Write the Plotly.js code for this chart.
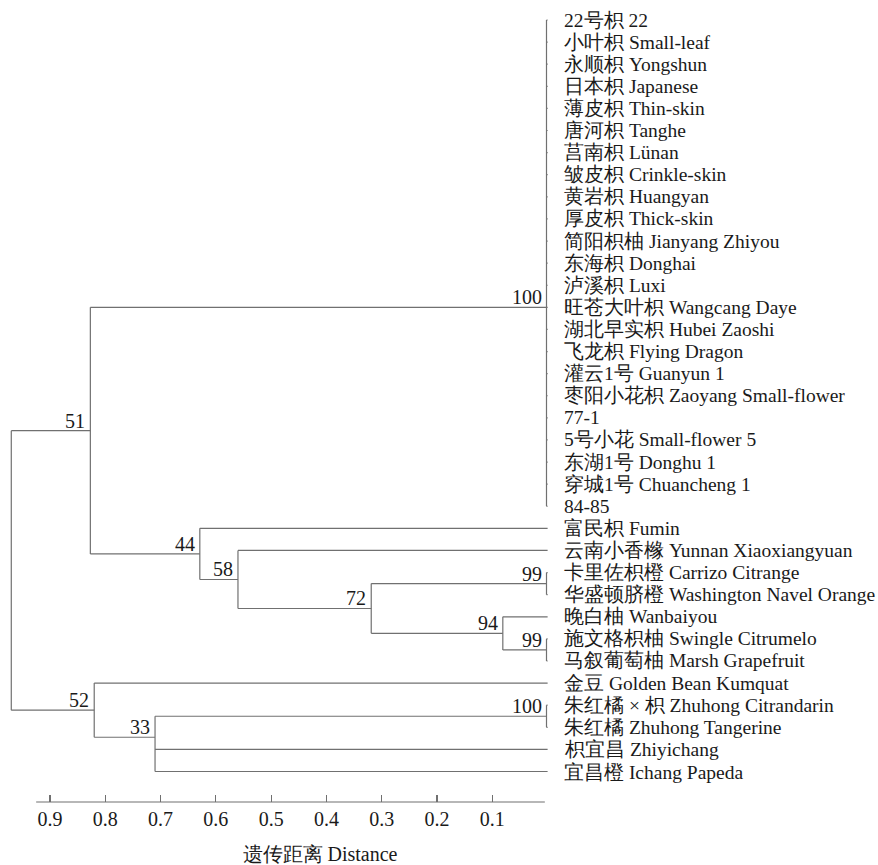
<!DOCTYPE html>
<html>
<head>
<meta charset="utf-8">
<script src="https://cdn.plot.ly/plotly-3.0.1.min.js"></script>
<style>html,body{margin:0;padding:0;background:#fff;}#chart{width:878px;height:865px;}</style>
</head>
<body>
<div id="chart"></div>
<script>
// ---------- DATA ----------
// Leaf labels, top to bottom (row index = position in list); leaves sit at distance 0
const leafLabels = [
  '22号枳 22','小叶枳 Small-leaf','永顺枳 Yongshun','日本枳 Japanese','薄皮枳 Thin-skin',
  '唐河枳 Tanghe','莒南枳 Lünan','皱皮枳 Crinkle-skin','黄岩枳 Huangyan','厚皮枳 Thick-skin',
  '简阳枳柚 Jianyang Zhiyou','东海枳 Donghai','泸溪枳 Luxi','旺苍大叶枳 Wangcang Daye',
  '湖北早实枳 Hubei Zaoshi','飞龙枳 Flying Dragon','灌云1号 Guanyun 1',
  '枣阳小花枳 Zaoyang Small-flower','77-1','5号小花 Small-flower 5','东湖1号 Donghu 1',
  '穿城1号 Chuancheng 1','84-85','富民枳 Fumin','云南小香橼 Yunnan Xiaoxiangyuan',
  '卡里佐枳橙 Carrizo Citrange','华盛顿脐橙 Washington Navel Orange','晚白柚 Wanbaiyou',
  '施文格枳柚 Swingle Citrumelo','马叙葡萄柚 Marsh Grapefruit','金豆 Golden Bean Kumquat',
  '朱红橘 × 枳 Zhuhong Citrandarin','朱红橘 Zhuhong Tangerine','枳宜昌 Zhiyichang','宜昌橙 Ichang Papeda'
];
// Internal nodes: id, genetic distance, bootstrap support, children (leaf row numbers or node ids)
const nodeIds      = ['T',   'A99', 'B99', 'N94', 'N72', 'N58', 'N44', 'N51', 'P100', 'N33', 'N52', 'ROOT'];
const nodeDist     = [0.002, 0.002, 0.002, 0.081, 0.319, 0.560, 0.629, 0.827, 0.002,  0.710, 0.820, 0.970];
const nodeSupport  = ['100', '99',  '99',  '94',  '72',  '58',  '44',  '51',  '100',  '33',  '52',  ''];
const nodeChildren = [
  [0,1,2,3,4,5,6,7,8,9,10,11,12,13,14,15,16,17,18,19,20,21,22],
  [25,26], [28,29], [27,'B99'], ['A99','N94'], [24,'N72'], [23,'N58'], ['T','N44'],
  [31,32], ['P100',33,34], [30,'N33'], ['N51','N52']
];
// Rows at which some clusters join their parent (as drawn in the figure)
const joinRowOverride = {T: 13, N33: 32.45};
// Axis
const tickVals  = [0.9,0.8,0.7,0.6,0.5,0.4,0.3,0.2,0.1];
const tickTexts = ['0.9','0.8','0.7','0.6','0.5','0.4','0.3','0.2','0.1'];
const axisExtent = [0.925, 0.005];
const xTitle = '遗传距离 Distance';

// ---------- BUILD ----------
const FONT = 'Liberation Serif';
const TXT = '#1a1a1a';
const LINE = '#707070';
const memo = {};
function info(ref) {
  if (typeof ref === 'number') return {d: 0, y: ref};
  if (memo[ref]) return memo[ref];
  const k = nodeIds.indexOf(ref);
  const ch = nodeChildren[k].map(info);
  const y = (ref in joinRowOverride) ? joinRowOverride[ref] : (ch[0].y + ch[ch.length-1].y) / 2;
  memo[ref] = {d: nodeDist[k], y: y, ch: ch, k: k};
  return memo[ref];
}
const xs = [], ys = [];
const annotations = [];
nodeIds.forEach((id, k) => {
  const n = info(id);
  xs.push(n.d, n.d, null); ys.push(n.ch[0].y, n.ch[n.ch.length-1].y, null);
  n.ch.forEach(c => { xs.push(c.d, n.d, null); ys.push(c.y, c.y, null); });
  if (nodeSupport[k]) {
    annotations.push({x: n.d, y: n.y, xref: 'x', yref: 'y', text: nodeSupport[k], showarrow: false,
      xanchor: 'right', yanchor: 'bottom', xshift: -3, yshift: -3,
      font: {family: FONT, size: 20, color: TXT}});
  }
});
leafLabels.forEach((t, i) => {
  annotations.push({x: 0, y: i, xref: 'x', yref: 'y', text: t, showarrow: false,
    xanchor: 'left', yanchor: 'middle', xshift: 14,
    font: {family: FONT, size: 19.5, color: TXT}});
});

const data = [{type: 'scatter', mode: 'lines', x: xs, y: ys, line: {color: LINE, width: 1.2},
  hoverinfo: 'skip', showlegend: false}];

const layout = {
  width: 878, height: 865,
  font: {family: FONT, color: TXT},
  margin: {l: 0, r: 238, t: 0, b: 63},
  paper_bgcolor: '#fff', plot_bgcolor: '#fff',
  showlegend: false,
  xaxis: {range: [0.9904, -0.1671], showgrid: false, zeroline: false, showline: false,
    ticks: 'inside', ticklen: 7, tickwidth: 1.2, tickcolor: LINE,
    tickvals: tickVals, ticktext: tickTexts, ticklabelstandoff: 3,
    tickfont: {family: FONT, size: 20, color: TXT},
    title: {text: xTitle, standoff: 18, font: {family: FONT, size: 20, color: TXT}},
    automargin: false, fixedrange: true},
  yaxis: {range: [35.38, -0.905], showgrid: false, zeroline: false, showline: false,
    showticklabels: false, ticks: '', fixedrange: true},
  shapes: [{type: 'line', xref: 'x', yref: 'paper', x0: axisExtent[0], x1: axisExtent[1], y0: 0, y1: 0,
    line: {color: LINE, width: 1.2}}],
  annotations: annotations
};
Plotly.newPlot('chart', data, layout, {displayModeBar: false, staticPlot: true});
</script>
</body>
</html>
